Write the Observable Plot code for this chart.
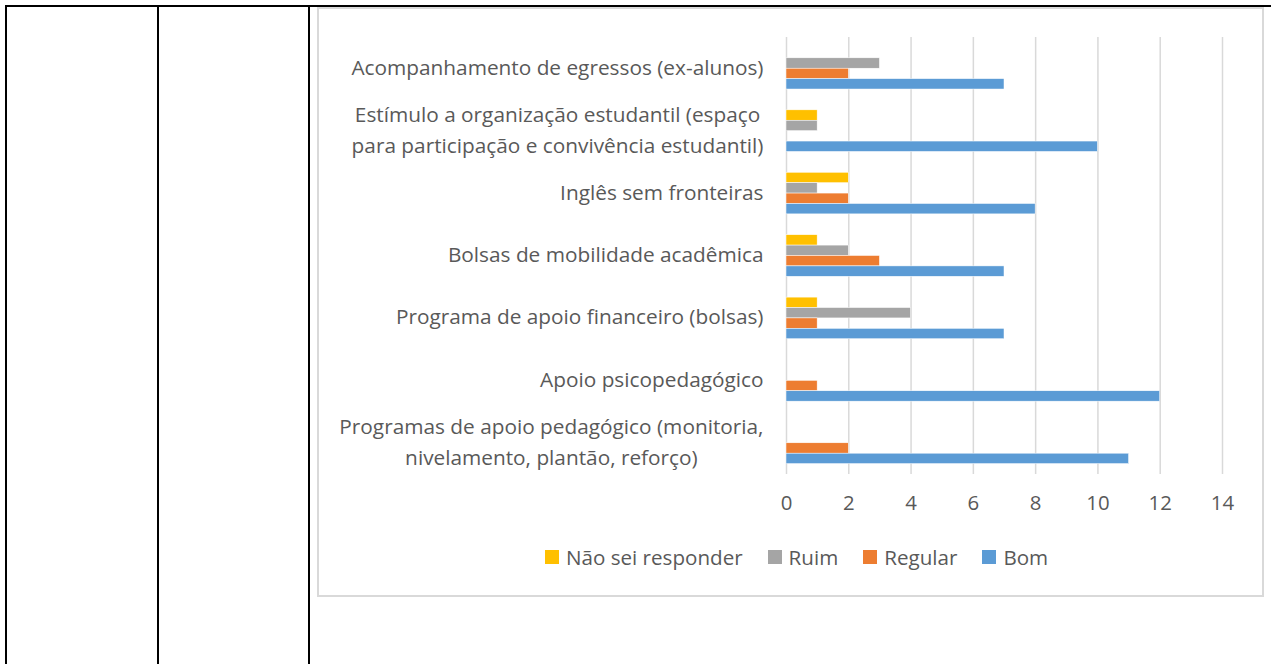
<!DOCTYPE html>
<html><head><meta charset="utf-8">
<script src="https://cdn.jsdelivr.net/npm/d3@7"></script>
<script src="https://cdn.jsdelivr.net/npm/@observablehq/plot@0.6"></script>
<style>
html,body{margin:0;padding:0;background:#fff;width:1271px;height:664px;overflow:hidden;font-family:"Open Sans",sans-serif;}
.ln{position:absolute;background:#000;}
#box{position:absolute;left:317px;top:7px;width:947px;height:590px;border:2px solid #d9d9d9;box-sizing:border-box;}
#chart{position:absolute;left:317px;top:8px;}
#legend{position:absolute;left:545px;top:543px;display:flex;align-items:center;height:28px;font-size:20.6px;color:#595959;white-space:nowrap;}
#legend .sw{width:14px;height:14px;margin-right:7px;}
#legend .it{display:flex;align-items:center;margin-right:25px;}
</style></head>
<body>
<div class="ln" style="left:5px;top:5px;width:1266px;height:2px"></div>
<div class="ln" style="left:5px;top:5px;width:2px;height:659px"></div>
<div class="ln" style="left:157px;top:5px;width:2px;height:659px"></div>
<div class="ln" style="left:308px;top:5px;width:2px;height:659px"></div>
<div id="box"></div>
<div id="chart"></div>
<div id="legend"></div>
<script>
const categories = [
  "Acompanhamento de egressos (ex-alunos)",
  "Estímulo a organização estudantil (espaço\npara participação e convivência estudantil)",
  "Inglês sem fronteiras",
  "Bolsas de mobilidade acadêmica",
  "Programa de apoio financeiro (bolsas)",
  "Apoio psicopedagógico",
  "Programas de apoio pedagógico (monitoria,\nnivelamento, plantão, reforço)"
];
const seriesNames = ["Não sei responder", "Ruim", "Regular", "Bom"];
const naoSei  = [0, 1, 2, 1, 1, 0, 0];
const ruim    = [3, 1, 1, 2, 4, 0, 0];
const regular = [2, 0, 2, 3, 1, 1, 2];
const bom     = [7, 10, 8, 7, 7, 12, 11];
const seriesColors = ["#FFC000", "#A5A5A5", "#ED7D31", "#5B9BD5"];
const xTicks = [0, 2, 4, 6, 8, 10, 12, 14];

const seriesValues = [naoSei, ruim, regular, bom];
const rows = [];
seriesNames.forEach((s, si) => {
  categories.forEach((c, ci) => {
    const v = seriesValues[si][ci];
    if (v > 0) rows.push({ci, series: s, value: v});
  });
});

const yDomain = categories.flatMap((c, i) => [`${i}|a`, ...seriesNames.map(s => `${i}|${s}`), `${i}|b`]);

const W = 947, mT = 29, plotH = 437, mB = 50, mL = 469, mR = 42;
const H = mT + plotH + mB;
const bw = plotH / yDomain.length;
const labelFont = 20.8;

const ctx = document.createElement("canvas").getContext("2d");
ctx.font = `${labelFont}px 'Open Sans'`;
const labelWidth = c => Math.max(...c.split("\n").map(l => ctx.measureText(l).width));

const labelMarks = categories.map((c, i) => Plot.text([c], {
  frameAnchor: "left",
  y: () => `${i}|Regular`,
  text: d => d,
  dy: -bw / 2 - 4,
  dx: -(23 + labelWidth(c) / 2),
  textAnchor: "middle",
  lineAnchor: "middle",
  lineHeight: 1.5,
  fontSize: labelFont,
  fill: "#595959"
}));

const chart = Plot.plot({
  width: W, height: H,
  marginTop: mT, marginBottom: mB, marginLeft: mL, marginRight: mR,
  style: {fontFamily: "'Open Sans', sans-serif", fontSize: "20.4px", color: "#595959", background: "transparent"},
  x: {domain: [0, 14], ticks: xTicks, tickSize: 0, tickPadding: 21, label: null},
  y: {domain: yDomain, padding: 0, round: false, axis: null},
  color: {domain: seriesNames, range: seriesColors},
  marks: [
    Plot.ruleX(xTicks, {stroke: "#d9d9d9", strokeWidth: 1.5}),
    Plot.barX(rows, {x: "value", y: d => `${d.ci}|${d.series}`, fill: "series", stroke: "white", strokeWidth: 0.5}),
    ...labelMarks
  ]
});
document.getElementById("chart").appendChild(chart);

const legend = document.getElementById("legend");
seriesNames.forEach((s, i) => {
  const it = document.createElement("div");
  it.className = "it";
  const sw = document.createElement("div");
  sw.className = "sw";
  sw.style.background = seriesColors[i];
  const tx = document.createElement("span");
  tx.textContent = s;
  it.appendChild(sw); it.appendChild(tx);
  legend.appendChild(it);
});
</script>
</body></html>
